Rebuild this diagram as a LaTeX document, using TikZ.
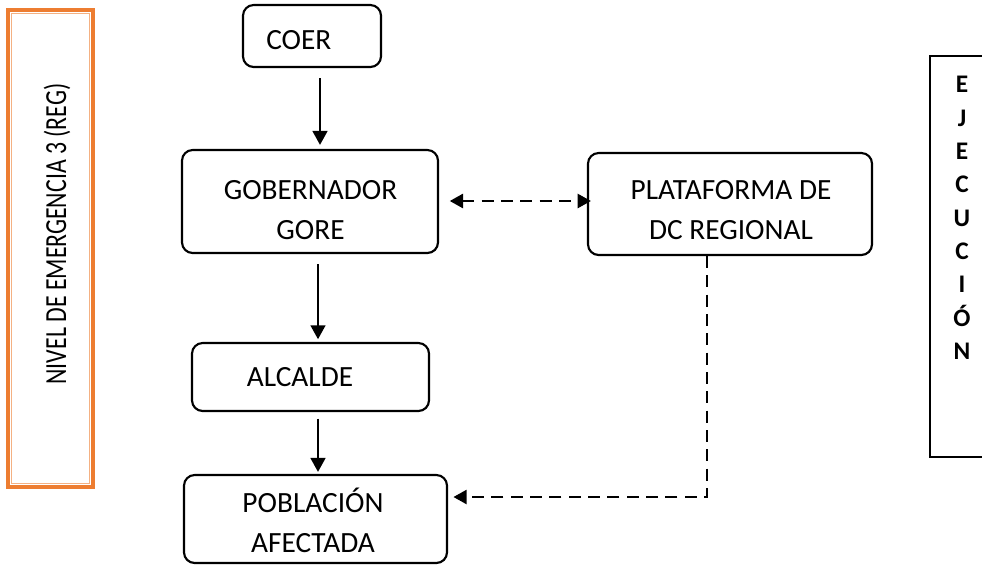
\documentclass[tikz,border=0pt]{standalone}
\usepackage{fontspec}
\setmainfont{Carlito}
\usetikzlibrary{arrows.meta,calc}
\definecolor{orng}{RGB}{237,125,49}
\definecolor{orngl}{RGB}{244,177,131}
\begin{document}
\begin{tikzpicture}[x=0.75pt,y=-0.75pt,
  box/.style={draw,line width=1.6pt,rounded corners=8pt,inner sep=0pt},
  txt/.style={align=center,inner sep=0pt,font=\fontsize{22}{30}\selectfont},
  arr/.style={line width=1.9pt,-{Triangle[length=10.5pt,width=11pt]}},
  darr/.style={line width=2pt,dash pattern=on 9pt off 5.5pt,-{Triangle[length=10pt,width=10.5pt]}},
  ]
\useasboundingbox (0,0) rectangle (982,565);
% left orange panel
\draw[orng,line width=2.4pt] (8,10) rectangle (93,487);
\draw[orngl,line width=1pt] (11.5,13.5) rectangle (89.5,483.5);
\node[rotate=90,font=\fontsize{23}{26}\selectfont,inner sep=0pt] (lvl) at (57,234) {\scalebox{0.776}[1]{NIVEL DE EMERGENCIA 3 (REG)}};
% right panel
\draw[line width=1.2pt] (990,56) -- (930,56) -- (930,457) -- (990,457);
\node[font=\bfseries\fontsize{19}{25}\selectfont,align=center] (ejec) at (962,218)
  {E\\J\\E\\C\\U\\C\\I\\Ó\\N};
% boxes
\node[box,minimum width=138*0.75pt,minimum height=62*0.75pt] (coer) at (312,36) {};
\node[txt,anchor=west] (coert) at (266,40) {COER};
\node[box,minimum width=256*0.75pt,minimum height=103*0.75pt] (gob) at (310,201.5) {};
\node[txt] (gobt) at (310.5,210) {GOBERNADOR\\GORE};
\node[box,minimum width=284*0.75pt,minimum height=102*0.75pt] (plat) at (730,204) {};
\node[txt] (platt) at (731,210) {PLATAFORMA DE\\DC REGIONAL};
\node[box,minimum width=237*0.75pt,minimum height=68*0.75pt] (alc) at (310.5,377) {};
\node[txt] (alct) at (300,377) {ALCALDE};
\node[box,minimum width=263*0.75pt,minimum height=88*0.75pt] (pob) at (315.5,519) {};
\node[txt] (pobt) at (313,520) {POBLACIÓN\\AFECTADA};
% connectors
\coordinate (c1) at (320,0);
\coordinate (c2) at (318,0);
\draw[arr,shorten <=7.5pt,shorten >=3pt] (coer.south -| c1) -- (gob.north -| c1);
\draw[arr,shorten <=7.5pt,shorten >=2pt] (gob.south -| c2) -- (alc.north -| c2);
\draw[arr,shorten <=5pt,shorten >=1.5pt] (alc.south -| c2) -- (pob.north -| c2);
\draw[darr,{Triangle[length=10pt,width=10.5pt]}-{Triangle[length=10pt,width=10.5pt]},shorten <=8pt,shorten >=-3pt] (gob.east |- 0,201) -- (plat.west |- 0,201);
\coordinate (pc) at (707,0);
\coordinate (pr) at (0,497);
\draw[darr,shorten >=4pt] (plat.south -| pc) -- (pc |- pr) -- (pob.east |- pr);
\end{tikzpicture}
\end{document}
